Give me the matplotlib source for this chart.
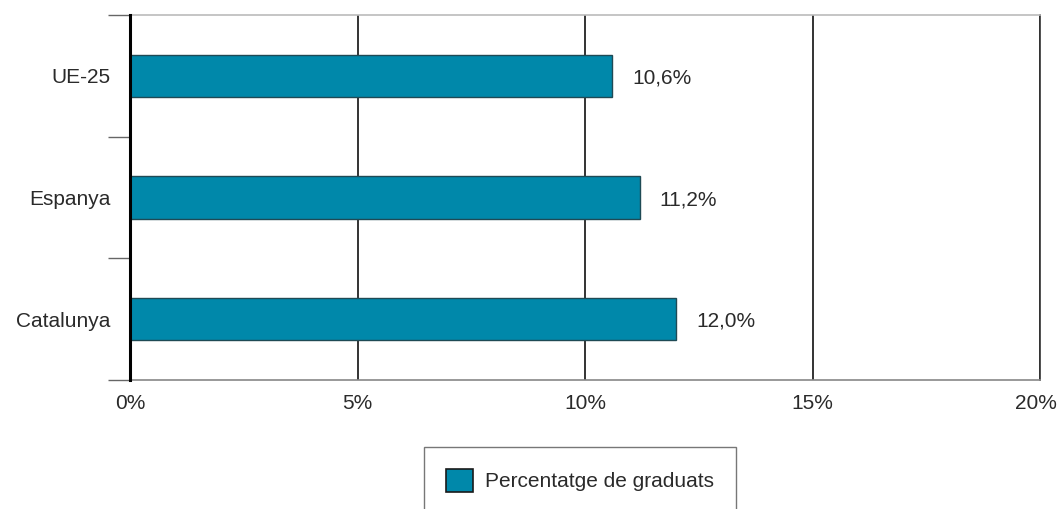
import matplotlib
matplotlib.use("Agg")
import matplotlib.pyplot as plt
import matplotlib.transforms as mtransforms
from matplotlib.patches import Patch

categories = ["UE-25", "Espanya", "Catalunya"]
values = [10.6, 11.2, 12.0]
value_labels = ["10,6%", "11,2%", "12,0%"]
xticks = [0, 5, 10, 15, 20]
xtick_labels = ["0%", "5%", "10%", "15%", "20%"]
series_name = "Percentatge de graduats"

plt.rcParams['font.family'] = ['Liberation Sans', 'DejaVu Sans']
FS = 15
BAR = "#0088AA"
TXT = "#2a2a2a"

fig = plt.figure(figsize=(10.57, 5.09), dpi=100)
ax = fig.add_axes([130/1057, (509-380)/509, (1040-130)/1057, (380-15)/509])

ypos = list(range(len(categories)))
ax.barh(ypos, values, height=0.35, color=BAR, edgecolor="#1f4a55", linewidth=1, zorder=3)
for y, v, lab in zip(ypos, values, value_labels):
    ax.annotate(lab, (v, y), xytext=(20, -2), textcoords="offset pixels",
                va="center", ha="left", fontsize=FS, color=TXT)

ax.set_xlim(0, 20)
ax.set_ylim(len(categories) - 0.5, -0.5)
ax.set_xticks(xticks)
ax.set_xticklabels(xtick_labels, fontsize=FS, color=TXT)
ax.set_yticks(ypos)
ax.set_yticklabels(categories, fontsize=FS, color=TXT)
ax.set_yticks([i - 0.5 for i in range(len(categories) + 1)], minor=True)
ax.tick_params(axis="y", which="major", length=0, pad=14)
ax.tick_params(axis="y", which="minor", length=16, width=1, color="#666666", direction="out")
ax.tick_params(axis="x", which="major", length=0, pad=10)

# nudge the last x tick label inward so it stays inside the canvas
last = ax.get_xticklabels()[-1]
last.set_transform(last.get_transform() + mtransforms.ScaledTranslation(-4/100, 0, fig.dpi_scale_trans))

ax.grid(axis="x", color="#111111", linewidth=1.2, zorder=1)
ax.set_axisbelow(True)

ax.spines["top"].set_color("#bbbbbb")
ax.spines["top"].set_linewidth(1.2)
ax.spines["bottom"].set_color("#888888")
ax.spines["bottom"].set_linewidth(1.2)
ax.spines["right"].set_color("#333333")
ax.spines["right"].set_linewidth(1.2)
ax.spines["left"].set_color("black")
ax.spines["left"].set_linewidth(2.2)
ax.spines["left"].set_zorder(5)

handle = Patch(facecolor=BAR, edgecolor="#1a1a1a", linewidth=1.2, label=series_name)
leg = fig.legend(handles=[handle], loc="upper left",
                 bbox_to_anchor=(424/1057, (509-447)/509), bbox_transform=fig.transFigure,
                 fontsize=FS, frameon=True, fancybox=False, borderaxespad=0,
                 borderpad=1.05, handlelength=1.3, handleheight=1.3, handletextpad=0.6)
leg.get_frame().set_edgecolor("#555555")
leg.get_frame().set_linewidth(1.0)
for t in leg.get_texts():
    t.set_color(TXT)

fig.savefig("out.png", dpi=100)
